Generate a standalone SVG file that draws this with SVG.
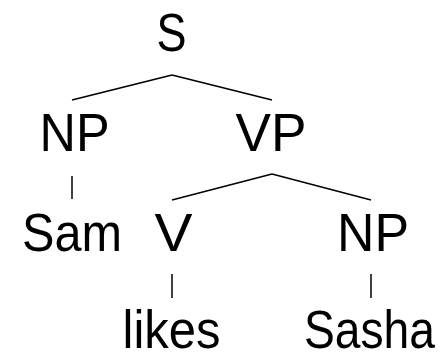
<svg xmlns="http://www.w3.org/2000/svg" width="446" height="352" viewBox="0 0 446 352">
<style>
text{font-family:"Liberation Sans","DejaVu Sans",sans-serif;font-size:54px;fill:#000;text-anchor:middle}
.e line{stroke:#000;stroke-width:1.5;stroke-linecap:butt}
</style>
<rect width="446" height="352" fill="#fff"/>
<g class="e" id="edges">
<line x1="172" y1="75" x2="72" y2="100"/>
<line x1="172" y1="75" x2="272" y2="100"/>
<line x1="72" y1="176" x2="72" y2="199"/>
<line x1="272" y1="174" x2="172" y2="200"/>
<line x1="272" y1="174" x2="371" y2="200"/>
<line x1="172" y1="274" x2="172" y2="298"/>
<line x1="371" y1="274" x2="371" y2="298"/>
</g>
<g id="S"><text x="171.5" y="51" textLength="30" lengthAdjust="spacingAndGlyphs">S</text></g>
<g id="NP1"><text x="74.5" y="151" textLength="70" lengthAdjust="spacingAndGlyphs">NP</text></g>
<g id="VP"><text x="271" y="151" textLength="71" lengthAdjust="spacingAndGlyphs">VP</text></g>
<g id="Sam"><text x="72" y="251" textLength="100" lengthAdjust="spacingAndGlyphs">Sam</text></g>
<g id="V"><text x="173.5" y="251" textLength="38" lengthAdjust="spacingAndGlyphs">V</text></g>
<g id="NP2"><text x="373" y="251" textLength="72" lengthAdjust="spacingAndGlyphs">NP</text></g>
<g id="likes"><text x="171.5" y="348" textLength="98" lengthAdjust="spacingAndGlyphs">likes</text></g>
<g id="Sasha"><text x="369.5" y="348" textLength="131" lengthAdjust="spacingAndGlyphs">Sasha</text></g>
</svg>
